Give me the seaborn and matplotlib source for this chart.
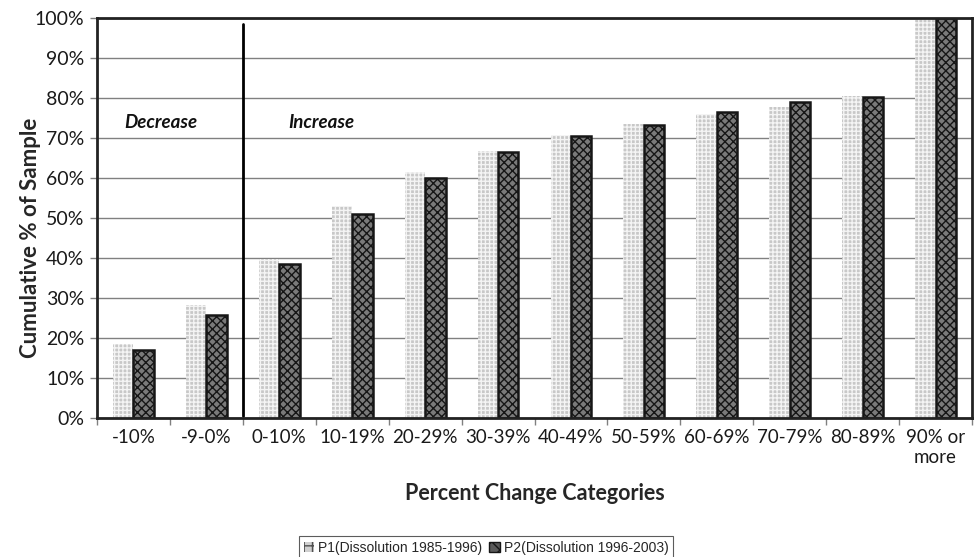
import matplotlib
matplotlib.use("Agg")
import matplotlib.pyplot as plt
import seaborn as sns
import pandas as pd
import numpy as np
from matplotlib.ticker import FixedLocator, PercentFormatter

categories = ["-10%", "-9-0%", "0-10%", "10-19%", "20-29%", "30-39%", "40-49%",
              "50-59%", "60-69%", "70-79%", "80-89%", "90% or\nmore"]
p1_values = [18.5, 28.2, 39.8, 53.0, 61.5, 66.8, 70.8, 73.5, 76.0, 77.8, 80.5, 100.0]
p2_values = [17.0, 25.7, 38.5, 51.0, 60.0, 66.5, 70.5, 73.3, 76.5, 79.0, 80.3, 100.0]
series_names = ["P1(Dissolution 1985-1996)", "P2(Dissolution 1996-2003)"]

df = pd.DataFrame({
    "category": categories * 2,
    "value": p1_values + p2_values,
    "series": [series_names[0]] * len(categories) + [series_names[1]] * len(categories),
})

sns.set_theme(style="white")
plt.rcParams["font.family"] = ["Lato", "DejaVu Sans"]
plt.rcParams["hatch.linewidth"] = 1.0

fig = plt.figure(figsize=(9.75, 5.57), dpi=100)
ax = fig.add_axes([97/975, 1 - 418/557, 875/975, 400/557])

sns.barplot(data=df, x="category", y="value", hue="series", order=categories,
            hue_order=series_names, ax=ax, width=0.56, gap=0, legend=True)

P1_STYLE = dict(facecolor="#c8c8c8", edgecolor="#f4f4f4", hatch="++++", linewidth=0)
P2_STYLE = dict(facecolor="#7a7a7a", edgecolor="#161616", hatch="xxxx", linewidth=1.8)

n = len(categories)
for i, patch in enumerate(ax.patches):
    if i < n:
        patch.set(**P1_STYLE)
    elif i < 2 * n:
        patch.set(**P2_STYLE)

ax.set_ylim(0, 100)
ax.set_xlim(-0.5, n - 0.5)
ax.yaxis.set_major_locator(FixedLocator(np.arange(0, 101, 10)))
ax.yaxis.set_major_formatter(PercentFormatter(decimals=0))
ax.grid(axis="y", color="#808080", linewidth=1.0)
ax.set_axisbelow(True)

ax.tick_params(axis="y", which="major", direction="out", length=5, width=1,
               color="#808080", labelsize=14, pad=4, labelcolor="#1a1a1a", left=True)
ax.tick_params(axis="x", which="major", length=0, labelsize=13.5, pad=8, labelcolor="#1a1a1a")
ax.set_xticks(np.arange(-0.5, n, 1.0), minor=True)
ax.tick_params(axis="x", which="minor", direction="out", length=5, width=1,
               color="#808080", bottom=True)
for lbl in ax.get_xticklabels():
    lbl.set_linespacing(1.2)

for s in ax.spines.values():
    s.set_color("#222222")
    s.set_linewidth(2.0)

ax.set_xlabel("Percent Change Categories", fontsize=15.5, fontweight="bold", labelpad=12)
ax.set_ylabel("Cumulative % of Sample", fontsize=16, fontweight="bold", labelpad=6)
ax.yaxis.set_label_coords(-0.064, 0.45)

# divider between decrease and increase
ax.plot([1.5, 1.5], [0.5, 98.5], color="black", linewidth=2)
ax.text(0.38, 74, "Decrease", fontsize=13.5, fontweight="bold", style="italic",
        ha="center", va="center", color="#111111")
ax.text(2.57, 74, "Increase", fontsize=13.5, fontweight="bold", style="italic",
        ha="center", va="center", color="#111111")

leg = ax.legend(loc="center", bbox_to_anchor=(486/975, 1 - 548/557),
                bbox_transform=fig.transFigure, ncol=2, frameon=True,
                fancybox=False, edgecolor="#333333",
                prop={"family": ["Liberation Sans", "DejaVu Sans"], "size": 10},
                handlelength=0.75, handleheight=0.75, handletextpad=0.3,
                columnspacing=0.5, borderpad=0.35)
leg.get_frame().set_linewidth(0.8)
handles = leg.legend_handles
handles[0].set(facecolor="#d0d0d0", edgecolor="#505050", hatch="++", linewidth=0)
handles[1].set(facecolor="#5a5a5a", edgecolor="#161616", hatch="xx", linewidth=1)

fig.savefig("out.png", dpi=100)
